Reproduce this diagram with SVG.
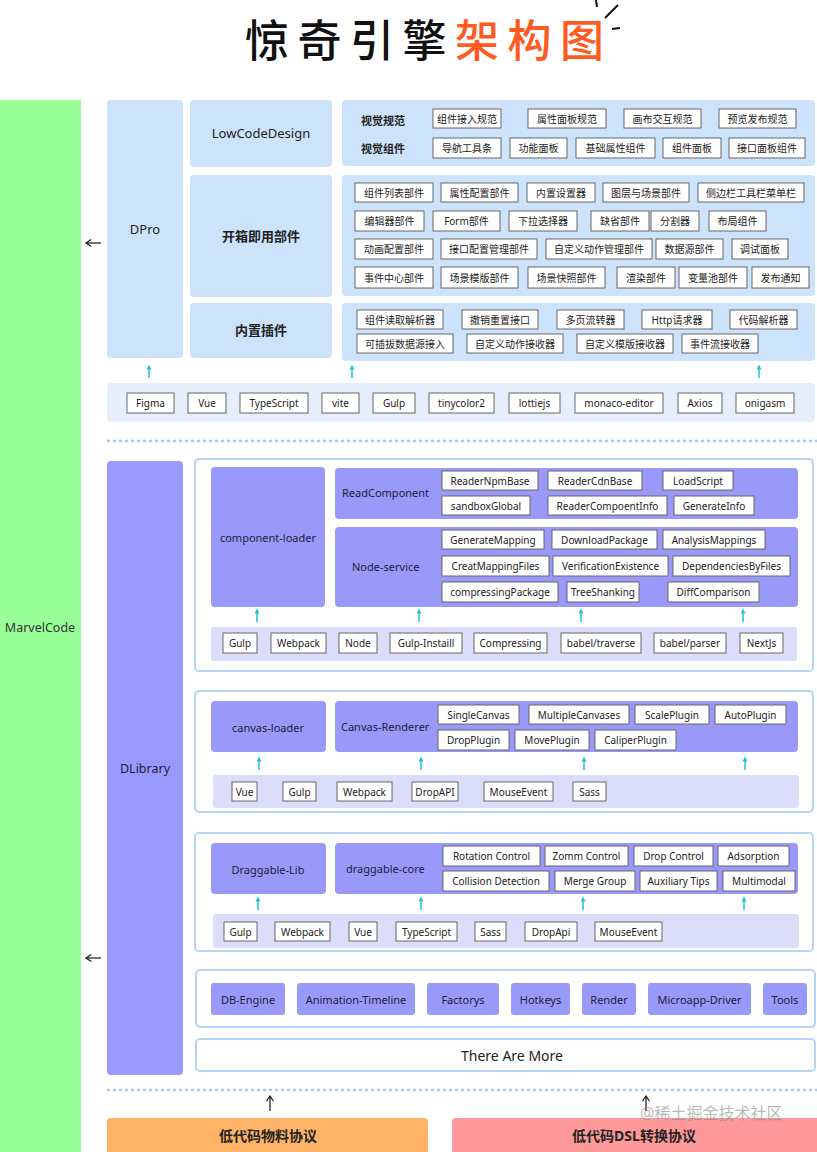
<svg xmlns="http://www.w3.org/2000/svg" width="817" height="1152" viewBox="0 0 817 1152">
<style>
text{font-family:"Noto Sans","Noto Sans CJK SC",sans-serif;}
.b{fill:#fff;stroke:#666;stroke-width:1}
.t{font-size:10px;fill:#222;text-anchor:middle;dominant-baseline:central}
.lb{fill:#cde3fb}
.tb{fill:#e5effb}
.pu{fill:#9999fa}
.lv{fill:#dcdcfb}
.fr{fill:#fff;stroke:#b5d5f7;stroke-width:2}
.h{font-size:13px;fill:#222;text-anchor:middle;dominant-baseline:central}
.hz{font-size:13px;font-weight:700;fill:#222;text-anchor:middle;dominant-baseline:central}
.m{font-size:11px;fill:#1c1c3c;text-anchor:middle;dominant-baseline:central}
.ms{font-size:11px;fill:#1c1c3c;dominant-baseline:central}
.ca{stroke:#1fc3d3;stroke-width:1.5;fill:none}
.ka{stroke:#111;stroke-width:1.2;fill:none}
.dl{stroke:#a8cbef;stroke-width:2.5;stroke-dasharray:3 3}
</style>
<defs>
<marker id="cy" viewBox="0 0 6 6" refX="3" refY="3" markerUnits="userSpaceOnUse" markerWidth="5" markerHeight="5" orient="auto"><path d="M0,0 L6,3 L0,6 z" fill="#1fc3d3"/></marker>
<marker id="bk" viewBox="0 0 8 10" refX="7" refY="5" markerUnits="userSpaceOnUse" markerWidth="7" markerHeight="9" orient="auto"><path d="M1,1 L7,5 L1,9" fill="none" stroke="#111" stroke-width="1.3"/></marker>
</defs>

<g id="title">
<text x="245" y="57" font-size="44" font-weight="500" letter-spacing="8.5" fill="#111">惊奇引擎<tspan fill="#ff5a1f">架构图</tspan></text>
<path d="M596,0 L597,7 M605,18 L618,5 M612,29 L620,28" stroke="#111" stroke-width="2" fill="none"/>
</g>

<g id="marvelcode">
<rect x="0" y="100" width="81" height="1052" fill="#99ff99"/>
<text x="40" y="627" class="m" style="font-size:12.5px;fill:#333">MarvelCode</text>
</g>

<g id="dpro">
<rect x="107" y="100" width="76" height="258" rx="4" class="lb"/>
<text x="145" y="229" class="h">DPro</text>
</g>
<g id="lowcodedesign">
<rect x="190" y="100" width="142" height="67" rx="4" class="lb"/>
<text x="261" y="133" class="h">LowCodeDesign</text>
</g>
<g id="kaixiang">
<rect x="190" y="175" width="142" height="122" rx="4" class="lb"/>
<text x="261" y="236" class="hz">开箱即用部件</text>
</g>
<g id="neizhi">
<rect x="190" y="303" width="142" height="55" rx="4" class="lb"/>
<text x="261" y="330" class="hz">内置插件</text>
</g>

<g id="panel-visual">
<rect x="342" y="100" width="473" height="66" rx="4" class="lb"/>
<text x="383" y="120" class="t" style="font-size:11px;font-weight:700">视觉规范</text>
<text x="383" y="148" class="t" style="font-size:11px;font-weight:700">视觉组件</text>
<rect x="433" y="109" width="68" height="19" class="b"/><text x="467" y="118.5" class="t">组件接入规范</text>
<rect x="528" y="109" width="78" height="19" class="b"/><text x="567" y="118.5" class="t">属性面板规范</text>
<rect x="624" y="109" width="77" height="19" class="b"/><text x="662.5" y="118.5" class="t">画布交互规范</text>
<rect x="719" y="109" width="77" height="19" class="b"/><text x="757.5" y="118.5" class="t">预览发布规范</text>
<rect x="433" y="138" width="68" height="20" class="b"/><text x="467" y="148" class="t">导航工具条</text>
<rect x="510" y="138" width="57" height="20" class="b"/><text x="538.5" y="148" class="t">功能面板</text>
<rect x="576" y="138" width="79" height="20" class="b"/><text x="615.5" y="148" class="t">基础属性组件</text>
<rect x="663" y="138" width="58" height="20" class="b"/><text x="692" y="148" class="t">组件面板</text>
<rect x="729" y="138" width="76" height="20" class="b"/><text x="767" y="148" class="t">接口面板组件</text>
</g>

<g id="panel-parts">
<rect x="342" y="175" width="473" height="121" rx="4" class="lb"/>
<rect x="355" y="183" width="78" height="19" class="b"/><text x="394" y="192.5" class="t">组件列表部件</text>
<rect x="441" y="183" width="77" height="19" class="b"/><text x="479.5" y="192.5" class="t">属性配置部件</text>
<rect x="527" y="183" width="68" height="19" class="b"/><text x="561" y="192.5" class="t">内置设置器</text>
<rect x="603" y="183" width="86" height="19" class="b"/><text x="646" y="192.5" class="t">图层与场景部件</text>
<rect x="698" y="183" width="106" height="19" class="b"/><text x="751" y="192.5" class="t">侧边栏工具栏菜单栏</text>
<rect x="355" y="211" width="69" height="20" class="b"/><text x="389.5" y="221" class="t">编辑器部件</text>
<rect x="433" y="211" width="67" height="20" class="b"/><text x="466.5" y="221" class="t">Form部件</text>
<rect x="509" y="211" width="68" height="20" class="b"/><text x="543" y="221" class="t">下拉选择器</text>
<rect x="591" y="211" width="58" height="20" class="b"/><text x="620" y="221" class="t">缺省部件</text>
<rect x="651" y="211" width="48" height="20" class="b"/><text x="675" y="221" class="t">分割器</text>
<rect x="709" y="211" width="57" height="20" class="b"/><text x="737.5" y="221" class="t">布局组件</text>
<rect x="355" y="239" width="78" height="20" class="b"/><text x="394" y="249" class="t">动画配置部件</text>
<rect x="441" y="239" width="96" height="20" class="b"/><text x="489" y="249" class="t">接口配置管理部件</text>
<rect x="546" y="239" width="106" height="20" class="b"/><text x="599" y="249" class="t">自定义动作管理部件</text>
<rect x="656" y="239" width="67" height="20" class="b"/><text x="689.5" y="249" class="t">数据源部件</text>
<rect x="732" y="239" width="56" height="20" class="b"/><text x="760" y="249" class="t">调试面板</text>
<rect x="355" y="267" width="78" height="21" class="b"/><text x="394" y="277.5" class="t">事件中心部件</text>
<rect x="441" y="267" width="77" height="21" class="b"/><text x="479.5" y="277.5" class="t">场景模版部件</text>
<rect x="528" y="267" width="77" height="21" class="b"/><text x="566.5" y="277.5" class="t">场景快照部件</text>
<rect x="617" y="267" width="58" height="21" class="b"/><text x="646" y="277.5" class="t">渲染部件</text>
<rect x="679" y="267" width="68" height="21" class="b"/><text x="713" y="277.5" class="t">变量池部件</text>
<rect x="752" y="267" width="57" height="21" class="b"/><text x="780.5" y="277.5" class="t">发布通知</text>
</g>

<g id="panel-plugins">
<rect x="342" y="303" width="473" height="58" rx="4" class="lb"/>
<rect x="357" y="310" width="86" height="19" class="b"/><text x="400" y="319.5" class="t">组件读取解析器</text>
<rect x="462" y="310" width="76" height="19" class="b"/><text x="500" y="319.5" class="t">撤销重置接口</text>
<rect x="557" y="310" width="67" height="19" class="b"/><text x="590.5" y="319.5" class="t">多页流转器</text>
<rect x="642" y="310" width="70" height="19" class="b"/><text x="677" y="319.5" class="t">Http请求器</text>
<rect x="730" y="310" width="67" height="19" class="b"/><text x="763.5" y="319.5" class="t">代码解析器</text>
<rect x="357" y="334" width="96" height="19" class="b"/><text x="405" y="343.5" class="t">可插拔数据源接入</text>
<rect x="467" y="334" width="96" height="19" class="b"/><text x="515" y="343.5" class="t">自定义动作接收器</text>
<rect x="577" y="334" width="96" height="19" class="b"/><text x="625" y="343.5" class="t">自定义模版接收器</text>
<rect x="682" y="334" width="76" height="19" class="b"/><text x="720" y="343.5" class="t">事件流接收器</text>
</g>

<g id="dpro-tech">
<rect x="107" y="383" width="708" height="39" rx="4" class="tb"/>
<rect x="127" y="393" width="47" height="20" class="b"/><text x="150.5" y="403" class="t">Figma</text>
<rect x="188" y="393" width="38" height="20" class="b"/><text x="207" y="403" class="t">Vue</text>
<rect x="240" y="393" width="68" height="20" class="b"/><text x="274" y="403" class="t">TypeScript</text>
<rect x="322" y="393" width="37" height="20" class="b"/><text x="340.5" y="403" class="t">vite</text>
<rect x="373" y="393" width="42" height="20" class="b"/><text x="394" y="403" class="t">Gulp</text>
<rect x="429" y="393" width="65" height="20" class="b"/><text x="461.5" y="403" class="t">tinycolor2</text>
<rect x="509" y="393" width="51" height="20" class="b"/><text x="534.5" y="403" class="t">lottiejs</text>
<rect x="575" y="393" width="88" height="20" class="b"/><text x="619" y="403" class="t">monaco-editor</text>
<rect x="678" y="393" width="44" height="20" class="b"/><text x="700" y="403" class="t">Axios</text>
<rect x="736" y="393" width="58" height="20" class="b"/><text x="765" y="403" class="t">onigasm</text>
</g>

<line class="dl" x1="107" y1="441" x2="817" y2="441"/>

<g id="dlibrary">
<rect x="107" y="461" width="76" height="614" rx="4" fill="#9999ff"/>
<text x="145" y="768" class="m" style="font-size:12.5px">DLibrary</text>
</g>

<g id="component-loader-section">
<rect x="195" y="459" width="618" height="212" rx="4" class="fr"/>
<rect x="211" y="467" width="114" height="140" rx="4" class="pu"/>
<text x="268" y="537" class="m">component-loader</text>
<rect x="335" y="468" width="463" height="51" rx="4" class="pu"/>
<text x="342" y="492" class="ms">ReadComponent</text>
<rect x="442" y="471" width="96" height="19" class="b"/><text x="490" y="480.5" class="t">ReaderNpmBase</text>
<rect x="548" y="471" width="94" height="19" class="b"/><text x="595" y="480.5" class="t">ReaderCdnBase</text>
<rect x="663" y="471" width="70" height="19" class="b"/><text x="698" y="480.5" class="t">LoadScript</text>
<rect x="442" y="496" width="88" height="19" class="b"/><text x="486" y="505.5" class="t">sandboxGlobal</text>
<rect x="548" y="496" width="119" height="19" class="b"/><text x="607.5" y="505.5" class="t">ReaderCompoentInfo</text>
<rect x="674" y="496" width="80" height="19" class="b"/><text x="714" y="505.5" class="t">GenerateInfo</text>
<rect x="335" y="527" width="463" height="80" rx="4" class="pu"/>
<text x="352" y="566" class="ms">Node-service</text>
<rect x="442" y="530" width="102" height="19" class="b"/><text x="493" y="539.5" class="t">GenerateMapping</text>
<rect x="552" y="530" width="105" height="19" class="b"/><text x="604.5" y="539.5" class="t">DownloadPackage</text>
<rect x="663" y="530" width="102" height="19" class="b"/><text x="714" y="539.5" class="t">AnalysisMappings</text>
<rect x="442" y="556" width="107" height="20" class="b"/><text x="495.5" y="566" class="t">CreatMappingFiles</text>
<rect x="553" y="556" width="115" height="20" class="b"/><text x="610.5" y="566" class="t">VerificationExistence</text>
<rect x="673" y="556" width="117" height="20" class="b"/><text x="731.5" y="566" class="t">DependenciesByFiles</text>
<rect x="442" y="582" width="116" height="20" class="b"/><text x="500" y="592" class="t">compressingPackage</text>
<rect x="567" y="582" width="72" height="20" class="b"/><text x="603" y="592" class="t">TreeShanking</text>
<rect x="668" y="582" width="91" height="20" class="b"/><text x="713.5" y="592" class="t">DiffComparison</text>
<rect x="211" y="627" width="586" height="34" rx="3" class="lv"/>
<rect x="223" y="633" width="34" height="20" class="b"/><text x="240" y="643" class="t">Gulp</text>
<rect x="271" y="633" width="55" height="20" class="b"/><text x="298.5" y="643" class="t">Webpack</text>
<rect x="339" y="633" width="38" height="20" class="b"/><text x="358" y="643" class="t">Node</text>
<rect x="390" y="633" width="72" height="20" class="b"/><text x="426" y="643" class="t">Gulp-Instaill</text>
<rect x="474" y="633" width="73" height="20" class="b"/><text x="510.5" y="643" class="t">Compressing</text>
<rect x="561" y="633" width="80" height="20" class="b"/><text x="601" y="643" class="t">babel/traverse</text>
<rect x="654" y="633" width="72" height="20" class="b"/><text x="690" y="643" class="t">babel/parser</text>
<rect x="740" y="633" width="43" height="20" class="b"/><text x="761.5" y="643" class="t">NextJs</text>
</g>

<g id="canvas-loader-section">
<rect x="195" y="691" width="618" height="121" rx="4" class="fr"/>
<rect x="211" y="701" width="115" height="51" rx="4" class="pu"/>
<text x="268" y="727" class="m">canvas-loader</text>
<rect x="335" y="701" width="463" height="51" rx="4" class="pu"/>
<text x="341" y="726" class="ms">Canvas-Renderer</text>
<rect x="438" y="705" width="81" height="19" class="b"/><text x="478.5" y="714.5" class="t">SingleCanvas</text>
<rect x="529" y="705" width="100" height="19" class="b"/><text x="579" y="714.5" class="t">MultipleCanvases</text>
<rect x="635" y="705" width="74" height="19" class="b"/><text x="672" y="714.5" class="t">ScalePlugin</text>
<rect x="715" y="705" width="71" height="19" class="b"/><text x="750.5" y="714.5" class="t">AutoPlugin</text>
<rect x="438" y="730" width="71" height="20" class="b"/><text x="473.5" y="740" class="t">DropPlugin</text>
<rect x="515" y="730" width="74" height="20" class="b"/><text x="552" y="740" class="t">MovePlugin</text>
<rect x="595" y="730" width="81" height="20" class="b"/><text x="635.5" y="740" class="t">CaliperPlugin</text>
<rect x="213" y="775" width="586" height="33" rx="3" class="lv"/>
<rect x="232" y="782" width="25" height="19" class="b"/><text x="244.5" y="791.5" class="t">Vue</text>
<rect x="283" y="782" width="33" height="19" class="b"/><text x="299.5" y="791.5" class="t">Gulp</text>
<rect x="337" y="782" width="55" height="19" class="b"/><text x="364.5" y="791.5" class="t">Webpack</text>
<rect x="412" y="782" width="46" height="19" class="b"/><text x="435" y="791.5" class="t">DropAPI</text>
<rect x="484" y="782" width="69" height="19" class="b"/><text x="518.5" y="791.5" class="t">MouseEvent</text>
<rect x="573" y="782" width="33" height="19" class="b"/><text x="589.5" y="791.5" class="t">Sass</text>
</g>

<g id="draggable-section">
<rect x="195" y="833" width="618" height="118" rx="4" class="fr"/>
<rect x="211" y="843" width="115" height="51" rx="4" class="pu"/>
<text x="268" y="869" class="m">Draggable-Lib</text>
<rect x="335" y="843" width="463" height="51" rx="4" class="pu"/>
<text x="346" y="868" class="ms">draggable-core</text>
<rect x="443" y="846" width="97" height="20" class="b"/><text x="491.5" y="856" class="t">Rotation Control</text>
<rect x="545" y="846" width="83" height="20" class="b"/><text x="586.5" y="856" class="t">Zomm Control</text>
<rect x="634" y="846" width="79" height="20" class="b"/><text x="673.5" y="856" class="t">Drop Control</text>
<rect x="718" y="846" width="71" height="20" class="b"/><text x="753.5" y="856" class="t">Adsorption</text>
<rect x="443" y="871" width="106" height="20" class="b"/><text x="496" y="881" class="t">Collision Detection</text>
<rect x="555" y="871" width="80" height="20" class="b"/><text x="595" y="881" class="t">Merge Group</text>
<rect x="640" y="871" width="77" height="20" class="b"/><text x="678.5" y="881" class="t">Auxiliary Tips</text>
<rect x="723" y="871" width="72" height="20" class="b"/><text x="759" y="881" class="t">Multimodal</text>
<rect x="213" y="914" width="586" height="34" rx="3" class="lv"/>
<rect x="224" y="922" width="33" height="19" class="b"/><text x="240.5" y="931.5" class="t">Gulp</text>
<rect x="275" y="922" width="55" height="19" class="b"/><text x="302.5" y="931.5" class="t">Webpack</text>
<rect x="349" y="922" width="28" height="19" class="b"/><text x="363" y="931.5" class="t">Vue</text>
<rect x="396" y="922" width="61" height="19" class="b"/><text x="426.5" y="931.5" class="t">TypeScript</text>
<rect x="475" y="922" width="31" height="19" class="b"/><text x="490.5" y="931.5" class="t">Sass</text>
<rect x="525" y="922" width="52" height="19" class="b"/><text x="551" y="931.5" class="t">DropApi</text>
<rect x="595" y="922" width="67" height="19" class="b"/><text x="628.5" y="931.5" class="t">MouseEvent</text>
</g>

<g id="misc-section">
<rect x="196" y="970" width="619" height="57" rx="4" class="fr"/>
<rect x="211" y="983" width="74" height="32" rx="3" class="pu"/><text x="248" y="999" class="m">DB-Engine</text>
<rect x="297" y="983" width="118" height="32" rx="3" class="pu"/><text x="356" y="999" class="m">Animation-Timeline</text>
<rect x="427" y="983" width="72" height="32" rx="3" class="pu"/><text x="463" y="999" class="m">Factorys</text>
<rect x="511" y="983" width="59" height="32" rx="3" class="pu"/><text x="540.5" y="999" class="m">Hotkeys</text>
<rect x="582" y="983" width="54" height="32" rx="3" class="pu"/><text x="609" y="999" class="m">Render</text>
<rect x="648" y="983" width="103" height="32" rx="3" class="pu"/><text x="699.5" y="999" class="m">Microapp-Driver</text>
<rect x="763" y="983" width="44" height="32" rx="3" class="pu"/><text x="785" y="999" class="m">Tools</text>
</g>

<g id="there-are-more">
<rect x="196" y="1039" width="619" height="32" rx="4" class="fr"/>
<text x="512" y="1055" class="h" style="font-size:14px">There Are More</text>
</g>

<line class="dl" x1="107" y1="1090" x2="817" y2="1090"/>

<g id="material-protocol">
<rect x="107" y="1118" width="321" height="40" rx="4" fill="#ffb366"/>
<text x="268" y="1135" class="hz" style="font-size:14px">低代码物料协议</text>
</g>
<g id="dsl-protocol">
<rect x="452" y="1118" width="370" height="40" rx="4" fill="#ff9999"/>
<text x="634" y="1135" class="hz" style="font-size:14px">低代码DSL转换协议</text>
</g>

<g id="connectors">
<line class="ka" x1="101" y1="243" x2="86" y2="243" marker-end="url(#bk)"/>
<line class="ka" x1="101" y1="958" x2="86" y2="958" marker-end="url(#bk)"/>
<line class="ka" x1="270" y1="1111" x2="270" y2="1096" marker-end="url(#bk)"/>
<line class="ka" x1="646" y1="1111" x2="646" y2="1096" marker-end="url(#bk)"/>
<line class="ca" x1="149" y1="378" x2="149" y2="367" marker-end="url(#cy)"/>
<line class="ca" x1="352" y1="378" x2="352" y2="367" marker-end="url(#cy)"/>
<line class="ca" x1="759" y1="378" x2="759" y2="367" marker-end="url(#cy)"/>
<line class="ca" x1="257" y1="622" x2="257" y2="611" marker-end="url(#cy)"/>
<line class="ca" x1="419" y1="622" x2="419" y2="611" marker-end="url(#cy)"/>
<line class="ca" x1="581" y1="622" x2="581" y2="611" marker-end="url(#cy)"/>
<line class="ca" x1="743" y1="622" x2="743" y2="611" marker-end="url(#cy)"/>
<line class="ca" x1="259" y1="770" x2="259" y2="759" marker-end="url(#cy)"/>
<line class="ca" x1="421" y1="770" x2="421" y2="759" marker-end="url(#cy)"/>
<line class="ca" x1="584" y1="770" x2="584" y2="759" marker-end="url(#cy)"/>
<line class="ca" x1="745" y1="770" x2="745" y2="759" marker-end="url(#cy)"/>
<line class="ca" x1="258" y1="910" x2="258" y2="899" marker-end="url(#cy)"/>
<line class="ca" x1="421" y1="910" x2="421" y2="899" marker-end="url(#cy)"/>
<line class="ca" x1="583" y1="910" x2="583" y2="899" marker-end="url(#cy)"/>
<line class="ca" x1="744" y1="910" x2="744" y2="899" marker-end="url(#cy)"/>
</g>

<text x="640" y="1119" font-size="16" fill="#888" fill-opacity="0.6">@稀土掘金技术社区</text>
</svg>
